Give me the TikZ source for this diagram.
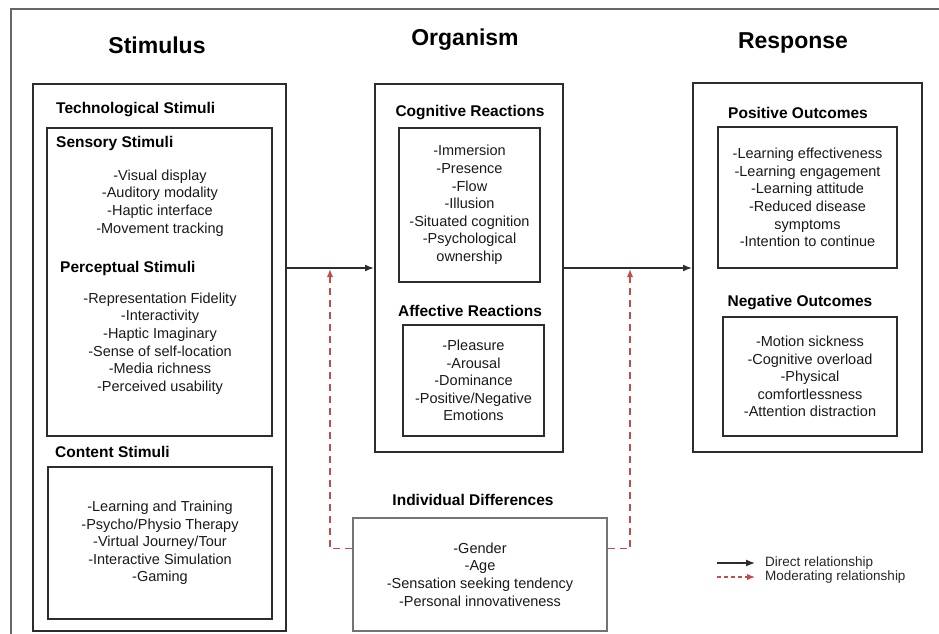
\documentclass[tikz,border=0pt]{standalone}
\usepackage{fontspec}
\setmainfont{Liberation Sans}
\usepackage{tikz}
\usetikzlibrary{arrows.meta}

\definecolor{ink}{RGB}{45,45,45}
\definecolor{modred}{RGB}{196,76,76}

\begin{document}
\begin{tikzpicture}[x=1pt, y=-1pt,
        heading/.style={inner sep=0pt, font=\fontsize{23}{27}\selectfont\bfseries},
        sub/.style={inner sep=0pt, font=\fontsize{15.5}{18}\selectfont\bfseries},
        items/.style={inner sep=0pt, align=center, text=black!90, font=\fontsize{14.5}{17.6}\selectfont},
        box/.style={items, draw=ink, line width=1.7pt},
        bigbox/.style={draw=ink, line width=2pt, inner sep=0pt},
        direct/.style={draw=ink, line width=1.6pt, arrows={-Latex[length=9pt, width=7pt]}},
        moderate/.style={draw=modred, line width=1.6pt, dash pattern=on 7pt off 5pt,
            arrows={-Latex[length=8pt, width=6.5pt]}},
        legend/.style={inner sep=0pt, anchor=west, text=black!85, font=\fontsize{13.5}{15}\selectfont}]
        \useasboundingbox (0,0) rectangle (939,634);
        \draw [draw=black!60, line width=2.2pt] (939,9) -| (11,634);

        \node [heading] (stim) at (157,45) {Stimulus};
        \node [heading] (orgn) at (465,40) {Organism};
        \node [heading] (resph) at (793,43) {Response};

        \node [bigbox, minimum width=253pt, minimum height=547pt] (tech) at (159.5,357.5) {};
        \node [sub, anchor=west] (techlab) at (56,110) {Technological Stimuli};
        \node [box, minimum width=225pt, minimum height=308pt] (sens) at (159.5,282) {};
        \node [sub, anchor=west] (senslab) at (56,143) {Sensory Stimuli};
        \node [items] (sensitems) at (160,203)
            {-Visual display\\-Auditory modality\\-Haptic interface\\-Movement tracking};
        \node [sub, anchor=west] (perclab) at (60,268) {Perceptual Stimuli};
        \node [items] (percitems) at (160,343.5)
            {-Representation Fidelity\\-Interactivity\\-Haptic Imaginary\\-Sense of self-location\\-Media richness\\-Perceived usability};
        \node [sub, anchor=west] (contlab) at (55,452) {Content Stimuli};
        \node [box, minimum width=224pt, minimum height=152pt] (cont) at (160,543)
            {-Learning and Training\\-Psycho/Physio Therapy\\-Virtual Journey/Tour\\-Interactive Simulation\\-Gaming};

        \node [bigbox, minimum width=188pt, minimum height=368pt] (org) at (469,268) {};
        \node [sub] (coglab) at (470,113) {Cognitive Reactions};
        \node [box, minimum width=141pt, minimum height=154pt] (cog) at (469.5,205)
            {-Immersion\\-Presence\\-Flow\\-Illusion\\-Situated cognition\\-Psychological\\ownership};
        \node [sub] (afflab) at (470,311) {Affective Reactions};
        \node [box, minimum width=141pt, minimum height=111pt] (aff) at (473.5,380.5)
            {-Pleasure\\-Arousal\\-Dominance\\-Positive/Negative\\Emotions};

        \node [sub] (indlab) at (473,500) {Individual Differences};
        \node [box, draw=black!55, minimum width=254pt, minimum height=113pt] (indiv) at (480,574.5)
            {-Gender\\-Age\\-Sensation seeking tendency\\-Personal innovativeness};

        \node [bigbox, minimum width=229pt, minimum height=369pt] (resp) at (807.5,267.5) {};
        \node [sub] (poslab) at (798,113) {Positive Outcomes};
        \node [box, minimum width=179pt, minimum height=141pt] (pos) at (807.5,197.5)
            {-Learning effectiveness\\-Learning engagement\\-Learning attitude\\-Reduced disease\\symptoms\\-Intention to continue};
        \node [sub] (neglab) at (800,303) {Negative Outcomes};
        \node [box, minimum width=174pt, minimum height=119pt] (neg) at (810,376.5)
            {-Motion sickness\\-Cognitive overload\\-Physical\\comfortlessness\\-Attention distraction};

        \draw [direct] (tech.east |- org.west) -- (org.west);
        \draw [direct] (org.east) -- (resp.west |- org.east);

        \coordinate (modL) at (330,269);
        \coordinate (modR) at (630,269);
        \draw [moderate] ([yshift=26pt]indiv.west) -| (modL);
        \draw [moderate] ([yshift=26pt]indiv.east) -| (modR);

        \node [legend] (ldir) at (765,563) {Direct relationship};
        \node [legend] (lmod) at (765,577) {Moderating relationship};
        \coordinate (dirtail) at (717,563);
        \coordinate (dirhead) at (755,563);
        \coordinate (modtail) at (717,577);
        \coordinate (modhead) at (755,577);
        \draw [direct, line width=1.3pt] (dirtail) -- (dirhead);
        \draw [moderate, line width=1.3pt, dash pattern=on 4pt off 3pt] (modtail) -- (modhead);
    \end{tikzpicture}
\end{document}
